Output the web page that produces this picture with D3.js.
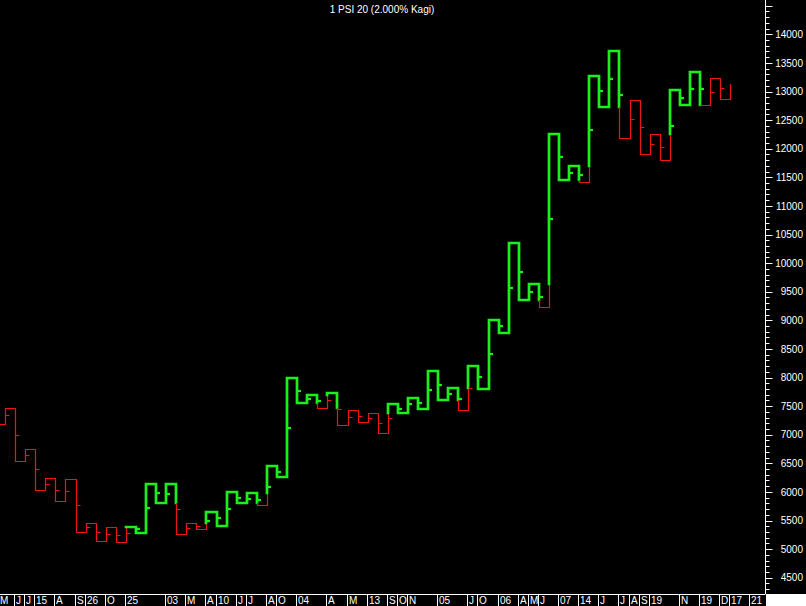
<!DOCTYPE html>
<html><head><meta charset="utf-8">
<script src="https://cdn.jsdelivr.net/npm/d3@7"></script>
<style>html,body{margin:0;padding:0;background:#000;overflow:hidden}</style>
</head><body>
<script>
const title = "1 PSI 20 (2.000% Kagi)";
// Kagi turning levels: start level, then the end level of each vertical line
const levels = [7182,
  7462, 6540, 6745, 6033, 6238, 5841, 6220, 5299, 5451, 5142,
  5381, 5119, 5392, 5287, 6145, 5811, 6133, 5259, 5451, 5346,
  5654, 5404, 5993, 5811, 5976, 5771, 6448, 6266, 7997, 7549,
  7699, 7462, 7734, 7164, 7427, 7217, 7374, 7030, 7542, 7385,
  7647, 7449, 8119, 7607, 7822, 7432, 8206, 7799, 9005, 8783,
  10357, 9355, 9629, 9227, 12262, 11453, 11700, 11413, 13276, 12729,
  13713, 12182, 12846, 11902, 12252, 11797, 13031, 12764, 13346, 12759,
  13231, 12864, 13131];
// small date markers on each vertical line
const markers = [
  7345, 6995, 6640, 6395, 6133, 6033, 6016, 5771, 5386, 5294,
  5259, 5241, 5276, 5357, 5724, 5986, 5969, 5696, 5364, 5404,
  5491, 5549, 5706, 5899, 5881, 5858, 6091, 6353, 7122, 7769,
  7629, 7594, 7607, 7444, 7304, 7327, 7287, 7204, 7287, 7455,
  7531, 7560, 7787, 7874, 7717, 7624, 7811, 8009, 8406, 8895,
  9570, 9850, 9500, 9413, 10766, 11860, 11580, 11540, 12332, 13009,
  13224, 12944, 12514, 12374, 12077, 12024, 12402, 12892, 13049, 13049,
  12986, 13056, null];
const dateLabels = ["M","J","J","15","A","S","26","O","25","03","M","A","10","J","J","A","O","04","A","M","13","S","O","N","05","J","O","06","A","M","J","07","14","J","J","A","S","19","N","19","D","17","21"];
const dateColumns = [-1,1,2,3,5,7,8,10,12,16,18,20,21,23,24,26,27,29,32,34,36,38,39,40,43,46,47,49,51,52,53,55,57,59,61,62,63,64,67,69,71,72,74];
const priceLabels = d3.range(4500, 14001, 500);
const priceMinor = d3.range(4300, 14501, 100);

const W = 806, H = 606;
const GREEN = "#1cf01c", RED = "#f01414";
const svg = d3.select("body").append("svg").attr("width", W).attr("height", H)
  .style("background", "#000").attr("font-family", "Liberation Sans, Arial, sans-serif");

const x = d3.scaleLinear().domain([0, 72]).range([5, 730.3]);
const y = d3.scaleLinear().domain([4500, 14000]).range([577.7, 34.3]);

const segs = [];
let state = "yin", lastHigh = null, lastLow = levels[0];
function seg(x1, y1, x2, y2, st) { segs.push({x1, y1, x2, y2, st}); }
seg(x(-1), levels[0], x(0), levels[0], state);
const markerInfo = [];
for (let i = 0; i < levels.length - 1; i++) {
  const a = levels[i], b = levels[i + 1];
  let split = null, s0 = state, s1 = state;
  if (b > a) {
    if (state === "yin" && lastHigh !== null && b > lastHigh) { split = Math.max(a, lastHigh); s1 = "yang"; }
    lastHigh = b;
  } else {
    if (state === "yang" && lastLow !== null && b < lastLow) { split = Math.min(a, lastLow); s1 = "yin"; }
    lastLow = b;
  }
  if (split !== null) {
    seg(x(i), a, x(i), split, s0);
    seg(x(i), split, x(i), b, s1);
  } else seg(x(i), a, x(i), b, s0);
  state = s1;
  if (i + 1 < levels.length - 1) seg(x(i), b, x(i + 1), b, state);
  const m = markers[i];
  if (m !== null && m !== undefined) {
    let ms = s0;
    if (split !== null) ms = (b > a ? (m > split ? s1 : s0) : (m < split ? s1 : s0));
    markerInfo.push({i, v: m, st: ms});
  }
}
const runs = [];
segs.forEach(s => {
  const last = runs[runs.length - 1];
  if (last && last.st === s.st) last.pts.push([s.x2, s.y2]);
  else runs.push({st: s.st, pts: [[s.x1, s.y1], [s.x2, s.y2]]});
});
const off = st => st === "yang" ? 0 : 0.5;
const g = svg.append("g");
g.selectAll("path.kagi").data(runs).join("path").attr("class", "kagi")
  .attr("d", d => d3.line().x(p => Math.round(p[0]) + off(d.st)).y(p => Math.round(y(p[1])) + off(d.st))(d.pts))
  .attr("fill", "none")
  .attr("stroke", d => d.st === "yang" ? GREEN : RED)
  .attr("stroke-width", d => d.st === "yang" ? 2.7 : 1.2)
  .attr("stroke-linejoin", "miter").attr("stroke-linecap", "square");
g.selectAll("line.mk").data(markerInfo).join("line").attr("class", "mk")
  .attr("x1", d => Math.round(x(d.i)) + off(d.st)).attr("x2", d => Math.round(x(d.i)) + 4 + off(d.st))
  .attr("y1", d => Math.round(y(d.v)) + off(d.st)).attr("y2", d => Math.round(y(d.v)) + off(d.st))
  .attr("stroke", d => d.st === "yang" ? GREEN : RED)
  .attr("stroke-width", d => d.st === "yang" ? 2.2 : 1.1);

// Right price axis
const axX = 765.5;
svg.append("line").attr("x1", axX).attr("x2", axX).attr("y1", 0).attr("y2", 594).attr("stroke", "#fff");
svg.selectAll("line.minor").data(priceMinor).join("line").attr("class", "minor")
  .attr("x1", axX).attr("x2", d => axX + (d % 500 === 0 ? 7 : 4))
  .attr("y1", d => Math.round(y(d)) + 0.5).attr("y2", d => Math.round(y(d)) + 0.5)
  .attr("stroke", "#fff");
svg.selectAll("text.pl").data(priceLabels).join("text").attr("class", "pl")
  .attr("x", 803).attr("y", d => y(d)).attr("dy", "0.36em")
  .attr("text-anchor", "end").attr("fill", "#fff").attr("font-size", "10px").text(d => d);

// Bottom date axis
svg.append("line").attr("x1", 0).attr("x2", axX).attr("y1", 594.5).attr("y2", 594.5).attr("stroke", "#fff");
svg.append("rect").attr("x", 766).attr("y", 594).attr("width", 40).attr("height", 12).attr("fill", "#fff");
const dl = svg.selectAll("g.dl").data(dateLabels.map((t, k) => ({t, c: dateColumns[k]}))).join("g").attr("class", "dl");
dl.append("line").attr("x1", d => Math.round(x(d.c)) - 0.5).attr("x2", d => Math.round(x(d.c)) - 0.5)
  .attr("y1", 594).attr("y2", 606).attr("stroke", "#fff");
dl.append("text").attr("x", d => Math.max(0, Math.round(x(d.c)) + 1)).attr("y", 604)
  .attr("fill", "#fff").attr("font-size", "10px").text(d => d.t);

// Title
svg.append("text").attr("x", 382).attr("y", 13).attr("text-anchor", "middle")
  .attr("fill", "#fff").attr("font-size", "10px").text(title);
</script>
</body></html>
